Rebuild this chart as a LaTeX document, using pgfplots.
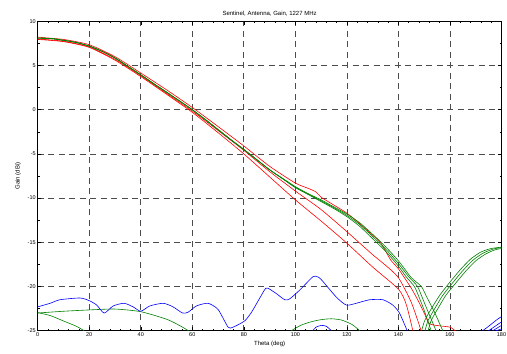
\documentclass[border=0pt]{standalone}
\usepackage{fontspec}
\setmainfont{Liberation Sans}
\usepackage{pgfplots}
\pgfplotsset{compat=1.18}

\definecolor{mgreen}{rgb}{0,0.5,0}
\definecolor{gridgray}{gray}{0.3}

\begin{document}
\begin{tikzpicture}[x=1pt,y=1pt]
\path[use as bounding box] (-37.7,-23.3) rectangle (469.3,330.7);
\begin{axis}[
  at={(0,0)}, anchor=south west,
  scale only axis, width=463.8pt, height=309.4pt,
  xmin=0, xmax=180, ymin=-25, ymax=10,
  xtick={0,20,...,180},
  xticklabels={0,20,40,60,80,100,120,140,160,180},
  ytick={-25,-20,...,10},
  yticklabels={-25,-20,-15,-10,-5,0,5,10},
  minor x tick num=4, minor y tick num=1,
  tick align=inside, xtick pos=both, ytick pos=both,
  major tick length=3.5pt, minor tick length=2pt,
  tick style={black, line width=0.5pt},
  every tick label/.append style={font=\fontsize{5.5}{6}\selectfont},
  xticklabel style={yshift=1.5pt},
  yticklabel style={xshift=1.5pt},
  axis line style={black, line width=0.7pt},
  grid=major,
  major grid style={gridgray, line width=0.75pt, dash pattern=on 6pt off 4.5pt},
  title={Sentinel, Antenna, Gain, 1227 MHz},
  title style={font=\fontsize{6}{7}\selectfont, yshift=-4pt},
  xlabel={Theta (deg)},
  xlabel style={font=\fontsize{6}{7}\selectfont, yshift=2.5pt},
  ylabel={Gain (dBi)},
  ylabel style={font=\fontsize{6}{7}\selectfont, yshift=0pt},
  clip=true,
  every axis plot/.append style={line width=0.6pt, smooth, tension=0.4},
]

% red traces (drawn first, green on top)
\addplot[red] coordinates {
 (0,8.2) (10,7.95) (20,7.35) (30,6.0) (40,4.15) (50,2.25) (60,0.25) (70,-1.9)
 (80,-4.1) (90,-6.4) (100,-8.3) (105,-8.9) (108,-9.3) (110,-9.9) (115,-10.8)
 (120,-11.7) (125,-12.9) (130,-14.2) (133,-15.0) (137,-17.0) (140,-18.0)
 (145,-20.2) (148,-21.8) (150,-23.0) (152,-24.2) (156,-24.45) (160,-24.6) (162,-25)};
\addplot[red] coordinates {
 (0,8.0) (10,7.75) (20,7.1) (30,5.7) (40,3.85) (50,1.85) (60,-0.15) (70,-2.35)
 (80,-4.6) (90,-7.0) (100,-9.2) (110,-11.3) (120,-13.8) (130,-16.4) (135,-17.6)
 (140,-19.0) (145,-21.8) (148.8,-25)};
\addplot[red] coordinates {
 (0,7.95) (10,7.7) (20,7.05) (30,5.6) (40,3.75) (50,1.75) (60,-0.3) (70,-2.6)
 (80,-5.0) (90,-7.6) (100,-10.2) (110,-12.6) (120,-15.1) (130,-17.8) (140,-20.3)
 (143,-22.0) (145.6,-25)};

% co-polar green traces
\addplot[mgreen] coordinates {
 (0,8.1) (5,8.05) (10,7.85) (15,7.6) (20,7.2) (25,6.6) (30,5.85) (35,4.9)
 (40,3.95) (45,2.95) (50,1.98) (55,1.0) (60,0.0) (65,-1.1) (70,-2.25) (75,-3.4)
 (80,-4.5) (85,-5.65) (90,-6.8) (95,-7.8) (100,-8.8) (105,-9.6) (110,-10.4)
 (115,-11.2) (120,-12.1) (125,-13.2) (130,-14.6) (135,-16.0) (140,-17.7)
 (143,-18.9) (146.2,-20.0) (148,-21.2) (150,-22.7) (152.7,-25)};
\addplot[mgreen] coordinates {
 (0,8.1) (5,8.05) (10,7.85) (15,7.6) (20,7.2) (25,6.6) (30,5.85) (35,4.9)
 (40,3.95) (45,2.95) (50,1.98) (55,1.0) (60,0.0) (65,-1.1) (70,-2.25) (75,-3.4)
 (80,-4.5) (85,-5.65) (90,-6.8) (95,-7.8) (100,-8.8) (105,-9.55) (110,-10.3)
 (115,-11.1) (120,-11.95) (125,-13.0) (130,-14.35) (135,-15.75) (140,-17.4)
 (144,-18.9) (147.4,-20.0) (150,-21.8) (152,-23.2) (154.6,-25)};
\addplot[mgreen] coordinates {
 (0,8.1) (5,8.05) (10,7.85) (15,7.6) (20,7.2) (25,6.6) (30,5.85) (35,4.9)
 (40,3.95) (45,2.95) (50,1.98) (55,1.0) (60,0.0) (65,-1.1) (70,-2.25) (75,-3.4)
 (80,-4.5) (85,-5.65) (90,-6.8) (95,-7.75) (100,-8.7) (105,-9.5) (110,-10.2)
 (115,-11.0) (120,-11.8) (125,-12.8) (130,-14.1) (135,-15.5) (140,-17.1)
 (145,-19.0) (148.9,-20.0) (151,-21.2) (154,-22.9) (157.2,-25)};

% back-lobe green traces
\addplot[mgreen] coordinates {
 (149,-25) (150,-24.0) (151,-23.4) (153,-22.4) (156,-21.0) (160,-19.5) (164,-18.1)
 (168,-16.9) (172,-16.1) (176,-15.7) (180,-15.55)};
\addplot[mgreen] coordinates {
 (150.3,-25) (151.3,-24.0) (152.3,-23.4) (154.3,-22.4) (157.2,-21.0) (161,-19.6)
 (165,-18.2) (169,-17.0) (173,-16.2) (177,-15.75) (180,-15.6)};
\addplot[mgreen] coordinates {
 (151.5,-25) (152.5,-24.0) (153.5,-23.4) (155.5,-22.4) (158.4,-21.0) (162,-19.7)
 (166,-18.3) (170,-17.1) (174,-16.3) (177.5,-15.85) (180,-15.7)};

% low-level green traces
\addplot[mgreen] coordinates {
 (0,-23.0) (10,-22.8) (20,-22.65) (30,-22.55) (40,-22.85) (50,-23.7) (55,-24.4) (58.5,-25)};
\addplot[mgreen] coordinates {
 (0,-22.95) (5,-23.3) (10,-23.9) (15,-24.5) (18,-25)};
\addplot[mgreen] coordinates {
 (98.5,-25) (102,-24.4) (106,-24.0) (110,-23.75) (114,-23.65) (118,-23.8) (122,-24.3) (125,-25)};

% cross-polar blue traces
\addplot[blue] coordinates {
 (0,-22.3) (4.8,-21.9) (8.6,-21.5) (16.4,-21.3) (20,-21.6) (22.9,-22.1) (25.8,-23.0)
 (29.3,-22.2) (33.5,-21.9) (37,-22.3) (40,-22.8) (43.5,-22.2) (48.7,-21.9)
 (52.5,-22.3) (56.2,-23.0) (58.4,-22.9) (61.6,-22.2) (66.1,-21.9) (70,-22.6)
 (73.9,-24.6) (75.8,-24.6) (80.3,-23.9) (83,-22.9) (86.2,-21.3) (88.5,-20.2)
 (90,-20.3) (92.6,-20.8) (95.9,-21.5) (97.8,-21.4) (101.7,-20.4) (106.8,-18.9)
 (108.5,-18.9) (110,-19.2) (115.9,-21.2) (119.8,-22.1) (123.6,-21.9) (128.8,-21.5)
 (134,-21.5) (137.8,-22.1) (140.4,-23.0) (143.4,-25)};
\addplot[blue] coordinates {
 (106.8,-25) (108,-24.6) (110.1,-24.4) (112,-24.5) (114,-25)};
\addplot[blue] coordinates {(172.7,-25) (175,-24.5) (178,-23.8) (180,-23.4)};
\addplot[blue] coordinates {(175,-25) (177,-24.6) (180,-24.0)};
\addplot[blue] coordinates {(176.6,-25) (178.3,-24.7) (180,-24.4)};
\addplot[blue] coordinates {(177.9,-25) (179,-24.9) (180,-24.8)};
\end{axis}
\end{tikzpicture}
\end{document}
